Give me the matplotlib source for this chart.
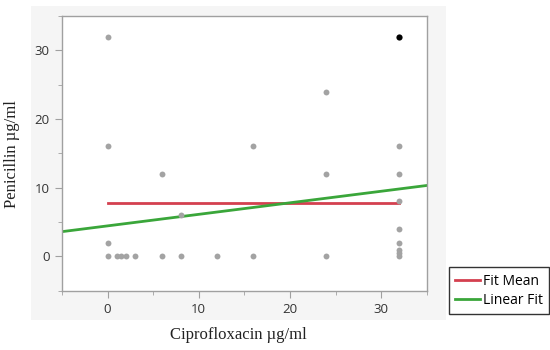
import matplotlib
matplotlib.use('Agg')
import matplotlib.pyplot as plt
from matplotlib.patches import Rectangle
from matplotlib.lines import Line2D
import numpy as np

# data
cipro = [0, 0, 0, 0, 1, 1.5, 2, 3, 6, 6, 8, 8, 12, 16, 16, 24, 24, 24,
         32, 32, 32, 32, 32, 32, 32, 32]
penic = [32, 16, 2, 0, 0, 0, 0, 0, 12, 0, 6, 0, 0, 16, 0, 24, 12, 0,
         16, 12, 8, 4, 2, 1, 0.5, 0]
hi_x, hi_y = [32], [32]

fit_mean = 7.7
mean_x = [0, 32]
lin_x = [-5, 35]
lin_slope = 0.168
lin_icpt = 4.44

fig = plt.figure(figsize=(5.5, 3.5), dpi=100)
# grey panel behind the plot
fig.add_artist(Rectangle((0.0564, 0.0857), 0.7546, 0.8973, transform=fig.transFigure,
                         facecolor='#f5f5f5', edgecolor='none', zorder=-1))
ax = fig.add_axes([0.1127, 0.1694, 0.6631, 0.7849])
ax.set_facecolor('white')

ax.scatter(cipro, penic, s=18, color='#a3a3a3', zorder=3, linewidths=0)
ax.scatter(hi_x, hi_y, s=20, color='black', zorder=4, linewidths=0)

ax.plot(mean_x, [fit_mean, fit_mean], color='#d4404f', lw=2, zorder=2)
ax.plot(lin_x, [lin_icpt + lin_slope * v for v in lin_x], color='#3aa63a', lw=2, zorder=2)

ax.set_xlim(-5, 35)
ax.set_ylim(-5, 35)
ax.set_xticks([0, 10, 20, 30])
ax.set_yticks([0, 10, 20, 30])
ax.set_xticks([-5, 5, 15, 25, 35], minor=True)
ax.set_yticks([-5, 5, 15, 25, 35], minor=True)
for s in ax.spines.values():
    s.set_color('#a0a0a0')
    s.set_linewidth(1)
ax.tick_params(which='major', length=5, color='#a0a0a0', labelsize=9.5,
               labelcolor='#333333', pad=4)
ax.tick_params(which='minor', length=3, color='#a0a0a0')
for t in ax.get_xticklabels() + ax.get_yticklabels():
    t.set_family('Open Sans')

fig.text(0.433, 0.043, 'Ciprofloxacin µg/ml', family='Liberation Serif', fontsize=12,
         ha='center', va='center', color='#222222')
fig.text(0.022, 0.56, 'Penicillin µg/ml', family='Liberation Serif', fontsize=12,
         ha='center', va='center', rotation=90, color='#222222')

handles = [Line2D([], [], color='#d4404f', lw=2), Line2D([], [], color='#3aa63a', lw=2)]
leg = fig.legend(handles, ['Fit Mean', 'Linear Fit'], loc='upper left',
                 bbox_to_anchor=(0.803, 0.256), fancybox=False, framealpha=1,
                 edgecolor='#333333', prop={'family': 'Open Sans', 'size': 10},
                 handlelength=1.8, handletextpad=0.2, borderpad=0.45, labelspacing=0.3)
leg.get_frame().set_linewidth(1)

fig.savefig('out.png', dpi=100)
